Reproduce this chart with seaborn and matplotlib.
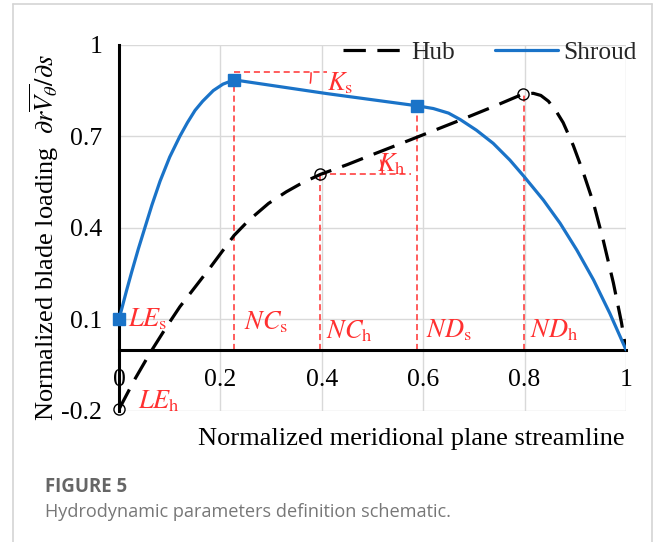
import numpy as np
import pandas as pd
import seaborn as sns
import matplotlib
matplotlib.use("Agg")
import matplotlib.pyplot as plt
from matplotlib.patches import Arc
from matplotlib.lines import Line2D

# ---- data ----
hub_x = [0.0, 0.03, 0.061, 0.094, 0.12, 0.18, 0.227, 0.255, 0.295, 0.33, 0.36, 0.397, 0.45,
         0.5, 0.574, 0.673, 0.738, 0.796, 0.817, 0.832, 0.847, 0.862, 0.876, 0.896, 0.916,
         0.936, 0.955, 0.975, 0.991, 1.0]
hub_y = [-0.195, -0.1, -0.011, 0.076, 0.141, 0.27, 0.375, 0.423, 0.48, 0.518, 0.546, 0.575,
         0.607, 0.64, 0.688, 0.753, 0.797, 0.838, 0.841, 0.834, 0.815, 0.783, 0.745, 0.67,
         0.58, 0.48, 0.36, 0.22, 0.09, 0.0]

shroud_x = [0.0, 0.015, 0.025, 0.038, 0.051, 0.065, 0.081, 0.1, 0.12, 0.135, 0.15, 0.165,
            0.186, 0.205, 0.227, 0.41, 0.588, 0.62, 0.65, 0.673, 0.705, 0.738, 0.771, 0.799,
            0.837, 0.87, 0.903, 0.936, 0.968, 1.0]
shroud_y = [0.1, 0.195, 0.255, 0.33, 0.4, 0.475, 0.553, 0.632, 0.7, 0.745, 0.785, 0.815,
            0.85, 0.871, 0.885, 0.84, 0.80, 0.791, 0.776, 0.755, 0.72, 0.677, 0.622, 0.568,
            0.491, 0.415, 0.327, 0.229, 0.12, 0.0]

shroud_mark_x = [0.0, 0.227, 0.588]
shroud_mark_y = [0.1, 0.885, 0.80]
hub_mark_x = [0.0, 0.397, 0.796]
hub_mark_y = [-0.195, 0.575, 0.838]

x_ticks = [0, 0.2, 0.4, 0.6, 0.8, 1]
x_tick_labels = ["0", "0.2", "0.4", "0.6", "0.8", "1"]
y_ticks = [-0.2, 0.1, 0.4, 0.7, 1.0]
y_tick_labels = ["-0.2", "0.1", "0.4", "0.7", "1"]

# annotation guide lines
vlines_x = [0.227, 0.397, 0.588, 0.799]
vlines_top = [0.885, 0.575, 0.80, 0.838]
hlines_y = [0.91, 0.578]
hlines_x0 = [0.227, 0.397]
hlines_x1 = [0.41, 0.575]

labels_txt = [r"$LE_\mathrm{s}$", r"$LE_\mathrm{h}$", r"$NC_\mathrm{s}$", r"$NC_\mathrm{h}$",
              r"$ND_\mathrm{s}$", r"$ND_\mathrm{h}$", r"$K_\mathrm{s}$", r"$K_\mathrm{h}$"]
labels_x = [0.018, 0.038, 0.246, 0.408, 0.606, 0.811, 0.41, 0.508]
labels_y = [0.1, -0.17, 0.09, 0.06, 0.065, 0.065, 0.873, 0.607]

# ---- style ----
sns.set_theme(style="white")
plt.rcParams["font.family"] = ["Liberation Serif", "DejaVu Serif"]
plt.rcParams["mathtext.fontset"] = "stix"

BLUE = "#1a73c8"
RED = "#ff3030"

W, H = 656, 542
X0, X1 = 119, 626
YT, YB = 44.8, 410.8
fig = plt.figure(figsize=(W/100, H/100), dpi=100)
ax = fig.add_axes([X0/W, 1-YB/H, (X1-X0)/W, (YB-YT)/H])
ax.set_xlim(0, 1)
ax.set_ylim(-0.2, 1.0)

# grid
for gx in [0.2, 0.4, 0.6, 0.8, 1.0]:
    ax.axvline(gx, color="#d9d9d9", lw=1, zorder=0)
for gy in [-0.2, 0.1, 0.4, 0.7, 1.0]:
    ax.axhline(gy, color="#d9d9d9", lw=1, zorder=0)

# red guide lines
for vx, vt in zip(vlines_x, vlines_top):
    ax.plot([vx, vx], [0, vt], color=RED, lw=1.1, dashes=(4, 2.5), zorder=2)
for hy, hx0, hx1 in zip(hlines_y, hlines_x0, hlines_x1):
    ax.plot([hx0, hx1], [hy, hy], color=RED, lw=1.1, dashes=(4, 2.5), zorder=2)
sx, sy = float(X1-X0), (YB-YT)/1.2
ax.add_patch(Arc((0.227, 0.91), 2*77/sx, 2*77/sy, theta1=-14, theta2=0, color=RED, lw=1.1))
ax.add_patch(Arc((0.397, 0.578), 2*62/sx, 2*62/sy, theta1=0, theta2=21, color=RED, lw=1.1))

# curves
df_h = pd.DataFrame({"x": hub_x, "y": hub_y})
df_s = pd.DataFrame({"x": shroud_x, "y": shroud_y})
sns.lineplot(data=df_h, x="x", y="y", ax=ax, color="black", lw=2.3, sort=False,
             estimator=None, linestyle=(0, (7, 3.6)), label="Hub", zorder=3)
sns.lineplot(data=df_s, x="x", y="y", ax=ax, color=BLUE, lw=2.3, sort=False,
             estimator=None, label="Shroud", zorder=3)
ax.plot(shroud_mark_x, shroud_mark_y, "s", color=BLUE, ms=8.8, zorder=5, clip_on=False)
ax.plot(hub_mark_x, hub_mark_y, "o", mfc="none", mec="black", mew=1.0, ms=8, zorder=5,
        clip_on=False)

for t, tx, ty in zip(labels_txt, labels_x, labels_y):
    ax.text(tx, ty, t, color=RED, fontsize=19, ha="left", va="center", zorder=6)

# spines & ticks
for s in ["top", "right"]:
    ax.spines[s].set_visible(False)
ax.spines["left"].set_color("black")
ax.spines["left"].set_linewidth(2.2)
ax.spines["bottom"].set_color("black")
ax.spines["bottom"].set_linewidth(2.2)
ax.spines["bottom"].set_position(("data", 0))
ax.set_xticks(x_ticks)
ax.set_xticklabels(x_tick_labels)
ax.set_xticks(np.arange(0.1, 1.0, 0.2), minor=True)
ax.set_yticks(y_ticks)
ax.set_yticklabels(y_tick_labels)
ax.set_yticks([-0.05, 0.25, 0.55, 0.85], minor=True)
ax.tick_params(axis="both", which="both", direction="in", color="black", width=2,
               labelsize=18.5, labelcolor="black", length=5)
ax.tick_params(axis="x", which="major", pad=14)
ax.tick_params(axis="y", which="major", pad=12)

ax.set_xlabel("Normalized meridional plane streamline", fontsize=19, color="black")
ax.xaxis.set_label_coords((411-X0)/(X1-X0), -(428-YB)/(YB-YT))
ax.set_ylabel(r"Normalized blade loading  $\partial r\overline{V_\theta}/\partial s$",
              fontsize=19, color="black")
ax.yaxis.set_label_coords(-(X0-61)/(X1-X0), (YB-237)/(YB-YT))

leg = ax.legend(loc="center left", bbox_to_anchor=(343/W, 1-53/H),
                bbox_transform=fig.transFigure, frameon=False, ncol=2, fontsize=18.3,
                handlelength=2.5, handletextpad=0.2, columnspacing=1.55, borderpad=0,
                borderaxespad=0)

# caption
fig.text(45/W, 1-487/H, "FIGURE 5", fontsize=13.4, fontweight="bold", color="#666666",
         family=["Open Sans", "DejaVu Sans"], va="center", ha="left")
fig.text(45/W, 1-512/H, "Hydrodynamic parameters definition schematic.", fontsize=13.1,
         color="#777777", family=["Open Sans", "DejaVu Sans"], va="center", ha="left")

# card border
kw = dict(transform=fig.transFigure, color="#d4d4d4", lw=1.2)
fig.add_artist(Line2D([13/W, 652/W], [1-4/H, 1-4/H], **kw))
fig.add_artist(Line2D([13/W, 13/W], [0, 1-4/H], **kw))
fig.add_artist(Line2D([652/W, 652/W], [0, 1-4/H], **kw))

fig.savefig("out.png", dpi=100, facecolor="white")
